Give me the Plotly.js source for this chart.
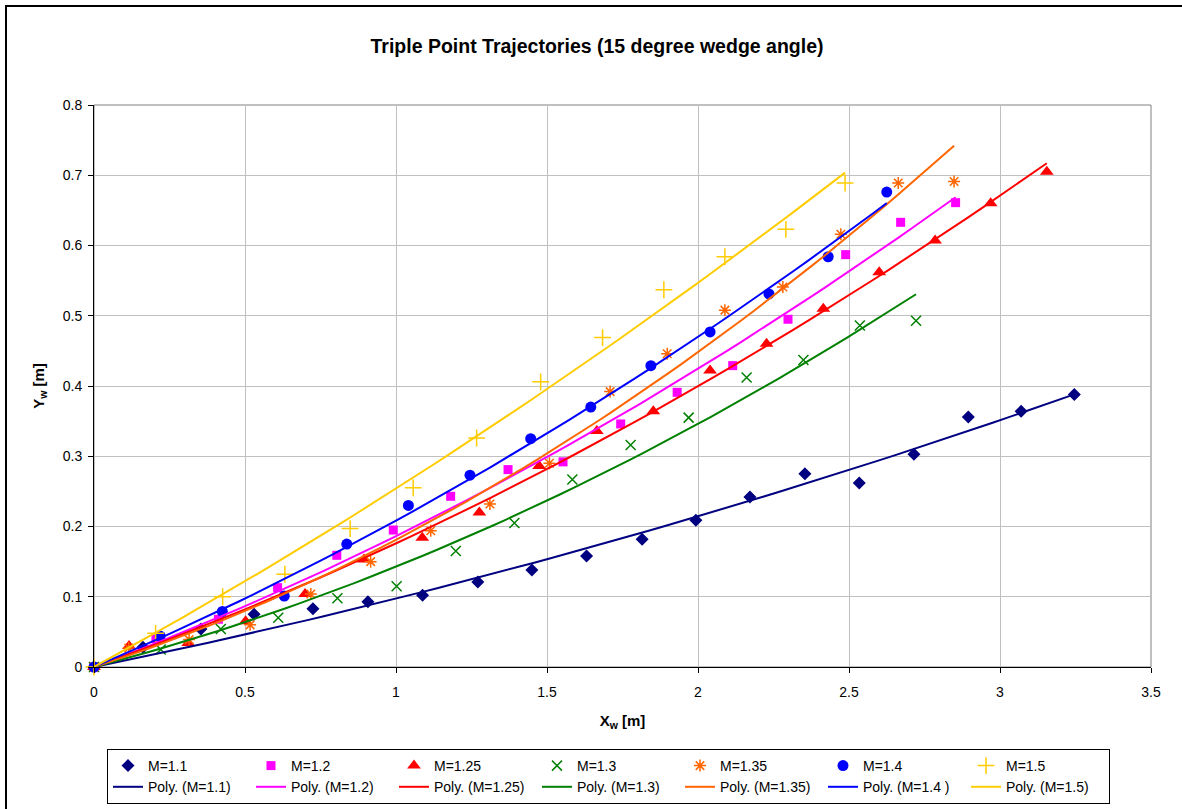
<!DOCTYPE html>
<html>
<head>
<meta charset="utf-8">
<script src="https://cdn.plot.ly/plotly-3.0.1.min.js"></script>
<style>html,body{margin:0;padding:0;background:#fff;}#chart{width:1182px;height:809px;}</style>
</head>
<body>
<div id="chart"></div>
<script>
// ---- data ----
const seriesNames = ["M=1.1", "M=1.2", "M=1.25", "M=1.3", "M=1.35", "M=1.4", "M=1.5"];
const fitNames = ["Poly. (M=1.1)", "Poly. (M=1.2)", "Poly. (M=1.25)", "Poly. (M=1.3)", "Poly. (M=1.35)", "Poly. (M=1.4 )", "Poly. (M=1.5)"];

const x_M110 = [0, 0.162, 0.354, 0.530, 0.725, 0.907, 1.088, 1.271, 1.450, 1.631, 1.815, 1.993, 2.172, 2.354, 2.534, 2.715, 2.895, 3.070, 3.246];
const y_M110 = [0, 0.028, 0.054, 0.075, 0.083, 0.093, 0.102, 0.121, 0.138, 0.158, 0.182, 0.209, 0.242, 0.275, 0.262, 0.303, 0.356, 0.364, 0.388];

const x_M120 = [0, 0.205, 0.412, 0.608, 0.804, 0.991, 1.181, 1.371, 1.553, 1.744, 1.931, 2.115, 2.298, 2.489, 2.671, 2.853];
const y_M120 = [0, 0.040, 0.068, 0.113, 0.159, 0.195, 0.243, 0.281, 0.292, 0.346, 0.391, 0.429, 0.495, 0.587, 0.633, 0.661];

const x_M125 = [0, 0.116, 0.312, 0.502, 0.699, 0.894, 1.087, 1.276, 1.474, 1.665, 1.852, 2.040, 2.227, 2.415, 2.600, 2.785, 2.969, 3.155];
const y_M125 = [0, 0.030, 0.034, 0.065, 0.104, 0.153, 0.184, 0.220, 0.286, 0.336, 0.364, 0.422, 0.460, 0.510, 0.562, 0.607, 0.660, 0.705];

const x_M130 = [0, 0.221, 0.420, 0.610, 0.806, 1.002, 1.198, 1.392, 1.584, 1.777, 1.969, 2.161, 2.349, 2.536, 2.722];
const y_M130 = [0, 0.025, 0.054, 0.070, 0.098, 0.115, 0.165, 0.205, 0.267, 0.316, 0.355, 0.412, 0.437, 0.486, 0.493];

const x_M135 = [0, 0.115, 0.315, 0.517, 0.718, 0.916, 1.115, 1.311, 1.508, 1.709, 1.898, 2.089, 2.281, 2.473, 2.663, 2.848];
const y_M135 = [0, 0.027, 0.039, 0.060, 0.104, 0.150, 0.194, 0.232, 0.290, 0.392, 0.446, 0.508, 0.541, 0.616, 0.689, 0.691];

const x_M140 = [0, 0.219, 0.425, 0.630, 0.837, 1.041, 1.245, 1.446, 1.645, 1.844, 2.040, 2.235, 2.431, 2.625];
const y_M140 = [0, 0.044, 0.079, 0.101, 0.175, 0.230, 0.273, 0.325, 0.370, 0.429, 0.477, 0.531, 0.584, 0.676];

const x_M150 = [0, 0.204, 0.426, 0.632, 0.848, 1.057, 1.267, 1.479, 1.684, 1.887, 2.089, 2.291, 2.487];
const y_M150 = [0, 0.048, 0.100, 0.132, 0.197, 0.255, 0.326, 0.406, 0.469, 0.537, 0.584, 0.623, 0.689];

const xTickVals = [0, 0.5, 1, 1.5, 2, 2.5, 3, 3.5];
const yTickVals = [0, 0.1, 0.2, 0.3, 0.4, 0.5, 0.6, 0.7, 0.8];

// ---- styles ----
const xs = [x_M110, x_M120, x_M125, x_M130, x_M135, x_M140, x_M150];
const ys = [y_M110, y_M120, y_M125, y_M130, y_M135, y_M140, y_M150];
const colors = ["#000080", "#FF00FF", "#FF0000", "#008000", "#FF6600", "#0000FF", "#FFCC00"];
const symbols = ["diamond", "square", "triangle-up", "x-thin-open", "asterisk-open", "circle", "cross-thin-open"];
const sizes = [10, 9, 12, 10, 10, 11, 12];

// 2nd-order polynomial least-squares trendline through the origin: y = c1 x + c2 x^2
function polyFit2(x, y) {
  let s11 = 0, s12 = 0, s22 = 0, t1 = 0, t2 = 0;
  for (let i = 0; i < x.length; i++) {
    const a = x[i], b = x[i]*x[i];
    s11 += a*a; s12 += a*b; s22 += b*b; t1 += a*y[i]; t2 += b*y[i];
  }
  const det = s11*s22 - s12*s12;
  return [(t1*s22 - t2*s12)/det, (s11*t2 - s12*t1)/det];
}

const traces = [];
for (let i = 0; i < 7; i++) {
  traces.push({
    x: xs[i], y: ys[i], type: "scatter", mode: "markers", name: seriesNames[i],
    cliponaxis: false,
    marker: { symbol: symbols[i], color: colors[i], size: sizes[i],
      line: { color: colors[i], width: (symbols[i].indexOf("open") >= 0) ? 1.5 : 0 } }
  });
}
for (let i = 0; i < 7; i++) {
  const c = polyFit2(xs[i], ys[i]);
  const xmin = Math.min(...xs[i]), xmax = Math.max(...xs[i]);
  const fx = [], fy = [];
  const n = 60;
  for (let k = 0; k <= n; k++) { const xv = xmin + (xmax - xmin)*k/n; fx.push(xv); fy.push(c[0]*xv + c[1]*xv*xv); }
  traces.push({ x: fx, y: fy, type: "scatter", mode: "lines", name: fitNames[i],
    line: { color: colors[i], width: 2 }, hoverinfo: "skip" });
}

const L = 94, R = 31, T = 105, B = 142;
const W = 1182 - L - R, H = 809 - T - B;
const FONT = "Liberation Sans, Arial, sans-serif";

const layout = {
  width: 1182, height: 809,
  margin: { l: L, r: R, t: T, b: B, autoexpand: false },
  paper_bgcolor: "#ffffff", plot_bgcolor: "#ffffff",
  font: { family: FONT, size: 13, color: "#000000" },
  title: { text: "<b>Triple Point Trajectories (15 degree wedge angle)</b>", font: { family: FONT, size: 19.5, color: "#000" },
    x: 597/1182, xref: "container", xanchor: "center", y: 1 - 46/809, yref: "container", yanchor: "middle" },
  showlegend: true,
  legend: {
    orientation: "h", x: (107 - L)/W, xanchor: "left", y: (667 - 749)/H, yanchor: "top",
    bordercolor: "#000000", borderwidth: 1, bgcolor: "#ffffff",
    font: { family: FONT, size: 14, color: "#000" },
    entrywidth: 98, entrywidthmode: "pixels", traceorder: "normal", tracegroupgap: 0
  },
  xaxis: {
    range: [0, 3.5], tickvals: xTickVals, ticktext: xTickVals.map(String),
    showgrid: true, gridcolor: "#c0c0c0", gridwidth: 1, zeroline: false,
    showline: true, linecolor: "#000000", linewidth: 1,
    ticks: "outside", ticklen: 5, tickcolor: "#000", tickfont: { family: FONT, size: 14 },
    ticklabelstandoff: 7,
    title: { text: "<b>X<sub>w</sub> [m]</b>", font: { family: FONT, size: 15 }, standoff: 16 }
  },
  yaxis: {
    range: [0, 0.8], tickvals: yTickVals, ticktext: yTickVals.map(String),
    showgrid: true, gridcolor: "#c0c0c0", gridwidth: 1, zeroline: false,
    showline: true, linecolor: "#000000", linewidth: 1,
    ticks: "outside", ticklen: 5, tickcolor: "#000", tickfont: { family: FONT, size: 14 },
    ticklabelstandoff: 3,
    title: { text: "<b>Y<sub>w</sub> [m]</b>", font: { family: FONT, size: 15 }, standoff: 14 }
  },
  shapes: [
    { type: "rect", xref: "paper", yref: "paper", x0: (6 - L)/W, x1: (1210 - L)/W, y0: (667 - 830)/H, y1: 1 + (T - 6)/H,
      line: { color: "#000", width: 2 }, fillcolor: "rgba(0,0,0,0)", layer: "below" },
    { type: "rect", xref: "paper", yref: "paper", x0: 0, x1: 1, y0: 0, y1: 1,
      line: { color: "#808080", width: 1 }, fillcolor: "rgba(0,0,0,0)", layer: "below" }
  ]
};

Plotly.newPlot("chart", traces, layout, { displayModeBar: false, staticPlot: true });
</script>
</body>
</html>
